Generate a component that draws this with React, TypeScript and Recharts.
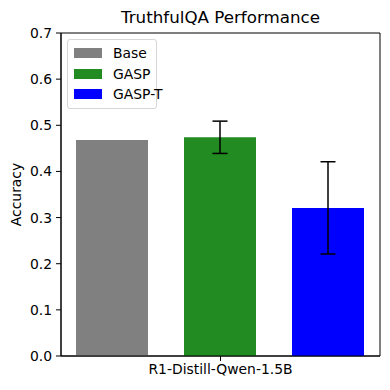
import { BarChart, Bar, XAxis, YAxis, ErrorBar, ReferenceArea } from "recharts";

// values
const categories = ["R1-Distill-Qwen-1.5B"];
const baseAcc = [0.468];
const gaspAcc = [0.474];
const gaspErr = [0.035];
const gaspTAcc = [0.321];
const gaspTErr = [0.1];
const yTicks = [0, 0.1, 0.2, 0.3, 0.4, 0.5, 0.6, 0.7];
const seriesNames = ["Base", "GASP", "GASP-T"];
const seriesColors = ["#808080", "#228B22", "#0000FF"];

const FONT = "DejaVu Sans, sans-serif";

const data = categories.map((name, i) => ({
  name,
  base: baseAcc[i],
  gasp: gaspAcc[i],
  gaspErr: gaspErr[i],
  gaspT: gaspTAcc[i],
  gaspTErr: gaspTErr[i],
}));

// matplotlib-style legend box, placed over the plot's top-left corner
const LegendBox = () => (
  <div
    style={{
      position: "absolute",
      left: 67,
      top: 39,
      border: "1px solid #d6d6d6",
      borderRadius: 3,
      background: "rgba(255,255,255,0.8)",
      padding: "3px 6px",
      fontFamily: FONT,
      fontSize: 13.9,
      width: 76,
      boxSizing: "content-box",
    }}
  >
    {seriesNames.map((n, i) => (
      <div key={n} style={{ display: "flex", alignItems: "center", height: 20.5, whiteSpace: "nowrap" }}>
        <span style={{ width: 28, height: 10, background: seriesColors[i], marginRight: 11, flex: "none" }} />
        <span style={{ color: "#000" }}>{n}</span>
      </div>
    ))}
  </div>
);

const App = () => {
  return (
    <div style={{ position: "absolute", left: 0, top: 0, width: 390, height: 390, background: "#fff" }}>
      <div
        style={{
          position: "absolute",
          left: 61,
          width: 319,
          top: 7,
          textAlign: "center",
          fontFamily: FONT,
          fontSize: 16.7,
          color: "#000",
        }}
      >
        TruthfulQA Performance
      </div>
      <BarChart
        width={390}
        height={390}
        data={data}
        margin={{ top: 33, right: 10, bottom: 4, left: 0 }}
        barCategoryGap={15}
        barGap={36}
      >
        <XAxis
          dataKey="name"
          height={30}
          stroke="#000"
          tickSize={5}
          tickMargin={3}
          tick={{ fill: "#000", fontSize: 13.9, fontFamily: FONT }}
        />
        <YAxis
          width={61}
          domain={[0, 0.7]}
          ticks={yTicks}
          stroke="#000"
          tickSize={5}
          tickMargin={4}
          tickFormatter={(v: number) => v.toFixed(1)}
          tick={{ fill: "#000", fontSize: 13.9, fontFamily: FONT }}
          label={{
            value: "Accuracy",
            angle: -90,
            position: "center",
            dx: -14.5,
            style: { fill: "#000", fontSize: 13.9, fontFamily: FONT },
          }}
        />
        <Bar dataKey="base" name={seriesNames[0]} fill={seriesColors[0]} isAnimationActive={false} />
        <Bar dataKey="gasp" name={seriesNames[1]} fill={seriesColors[1]} isAnimationActive={false}>
          <ErrorBar dataKey="gaspErr" width={7.5} stroke="#000" strokeWidth={1.5} direction="y" />
        </Bar>
        <Bar dataKey="gaspT" name={seriesNames[2]} fill={seriesColors[2]} isAnimationActive={false}>
          <ErrorBar dataKey="gaspTErr" width={7.5} stroke="#000" strokeWidth={1.5} direction="y" />
        </Bar>
        <ReferenceArea y1={0} y2={0.7} fill="none" stroke="#000" strokeWidth={1} ifOverflow="visible" />
      </BarChart>
      <LegendBox />
    </div>
  );
};

export default App;
